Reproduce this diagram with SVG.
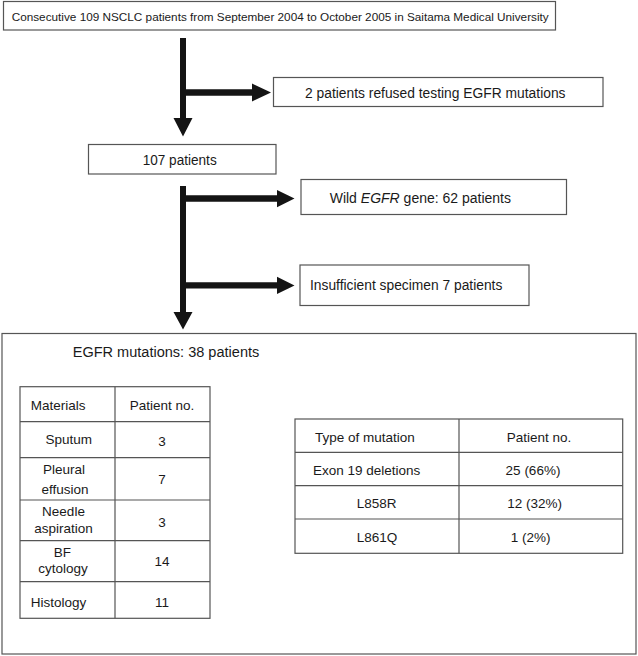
<svg xmlns="http://www.w3.org/2000/svg" width="638" height="656" viewBox="0 0 638 656">
<style>
  .box { fill: #ffffff; stroke: #555555; stroke-width: 1.2; }
  .grid { fill: none; stroke: #555555; stroke-width: 1.2; }
  .t { font-family: "Liberation Sans", Arial, Helvetica, sans-serif; font-size: 14px; fill: #1a1a1a; }
  .ts { font-family: "Liberation Sans", Arial, Helvetica, sans-serif; font-size: 11.6px; fill: #1a1a1a; }
  .tb { font-family: "Liberation Sans", Arial, Helvetica, sans-serif; font-size: 13.5px; fill: #1a1a1a; }
  .c { text-anchor: middle; }
  .arrow { fill: #141414; stroke: none; }
</style>
<rect x="0" y="0" width="638" height="656" fill="#ffffff"/>

<g id="connectors">
  <path class="arrow" d="M180,38 H186 V118 H192.5 L183,136.5 L173.5,118 H180 Z"/>
  <path class="arrow" d="M186,89.3 H252 V83.5 L271,92.5 L252,101.5 V95.7 H186 Z"/>
  <path class="arrow" d="M180,186 H186 V312 H192.5 L183,329.5 L173.5,312 H180 Z"/>
  <path class="arrow" d="M186,195.3 H277 V190 L294.5,198.6 L277,207.3 V201.8 H186 Z"/>
  <path class="arrow" d="M186,282.3 H277 V276.7 L294.5,285.4 L277,294 V288.6 H186 Z"/>
  <path class="arrow" d="M219,487.8 H274 V481.5 L292,491 L274,500.5 V494.2 H219 Z"/>
</g>

<g id="node-cohort">
  <rect class="box" x="3.5" y="1.5" width="552" height="28.5"/>
  <text class="ts" x="11.7" y="20.5" textLength="537" lengthAdjust="spacingAndGlyphs">Consecutive 109 NSCLC patients from September 2004 to October 2005 in Saitama Medical University</text>
</g>

<g id="node-refused">
  <rect class="box" x="273.5" y="77.5" width="329.5" height="29"/>
  <text class="t" x="305" y="98.3" textLength="260.5" lengthAdjust="spacingAndGlyphs">2 patients refused testing EGFR mutations</text>
</g>

<g id="node-107">
  <rect class="box" x="88.5" y="144.5" width="187.5" height="29.5"/>
  <text class="t" x="142.7" y="165" textLength="74" lengthAdjust="spacingAndGlyphs">107 patients</text>
</g>

<g id="node-wild">
  <rect class="box" x="301" y="179.5" width="265.5" height="35"/>
  <text class="t" x="329.7" y="203.3">Wild <tspan font-style="italic">EGFR</tspan> gene: 62 patients</text>
</g>

<g id="node-insufficient">
  <rect class="box" x="300" y="265" width="229" height="40.5"/>
  <text class="t" x="310" y="289.5" textLength="192.3" lengthAdjust="spacingAndGlyphs">Insufficient specimen 7 patients</text>
</g>

<g id="node-mutations">
  <rect class="box" x="2" y="333.5" width="634" height="320.5"/>
  <text class="t" x="72.7" y="356.5" textLength="186.6" lengthAdjust="spacingAndGlyphs">EGFR mutations: 38 patients</text>

  <g id="table-materials">
    <rect class="grid" x="20" y="386.7" width="190" height="231.6"/>
    <path class="grid" d="M115,386.7 V618.3 M20,421.7 H210 M20,457.7 H210 M20,500 H210 M20,540.7 H210 M20,581.7 H210"/>
    <text class="tb" x="30.7" y="410">Materials</text>
    <text class="tb c" x="162" y="410">Patient no.</text>
    <text class="tb c" x="68.8" y="443.5">Sputum</text>
    <text class="tb c" x="162" y="446">3</text>
    <text class="tb c" x="64" y="474">Pleural</text>
    <text class="tb c" x="65" y="494">effusion</text>
    <text class="tb c" x="162" y="484">7</text>
    <text class="tb c" x="63.5" y="516">Needle</text>
    <text class="tb c" x="63.5" y="532.5">aspiration</text>
    <text class="tb c" x="162" y="526.5">3</text>
    <text class="tb c" x="62.5" y="556.5">BF</text>
    <text class="tb c" x="63" y="573.3">cytology</text>
    <text class="tb c" x="162" y="566">14</text>
    <text class="tb" x="30.7" y="606.7">Histology</text>
    <text class="tb c" x="162" y="606.7">11</text>
  </g>

  <g id="table-types">
    <rect class="grid" x="295" y="419" width="327.7" height="134.3"/>
    <path class="grid" d="M459,419 V553.3 M295,452.3 H622.7 M295,485.7 H622.7 M295,519 H622.7"/>
    <text class="tb" x="315" y="441.7">Type of mutation</text>
    <text class="tb c" x="539" y="441.7">Patient no.</text>
    <text class="tb c" x="366.7" y="475">Exon 19 deletions</text>
    <text class="tb c" x="533" y="475">25 (66%)</text>
    <text class="tb c" x="376.7" y="508.3">L858R</text>
    <text class="tb c" x="534.7" y="508.3">12 (32%)</text>
    <text class="tb c" x="377" y="541.7">L861Q</text>
    <text class="tb c" x="530.7" y="541.7">1 (2%)</text>
  </g>
</g>
</svg>
